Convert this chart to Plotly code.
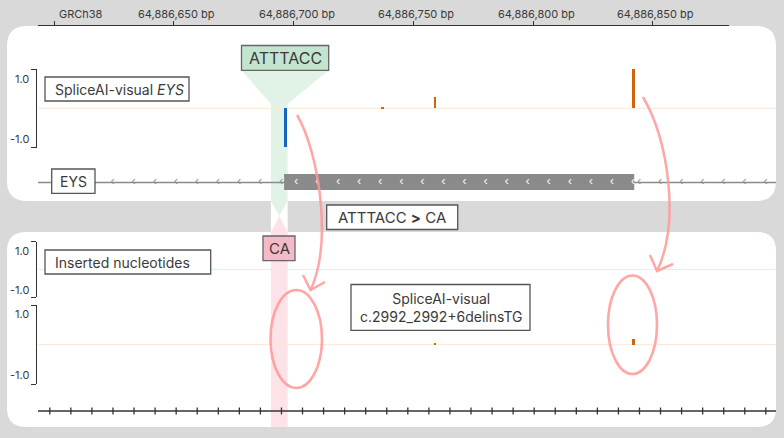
import numpy as np
import plotly.graph_objects as go

W, H = 784, 438

# ---------------- data ----------------
ruler_ticks = [64886600, 64886650, 64886700, 64886750, 64886800, 64886850]
ruler_labels = ["GRCh38", "64,886,650 bp", "64,886,700 bp", "64,886,750 bp",
                "64,886,800 bp", "64,886,850 bp"]

ref_pos = [64886696.5, 64886737, 64886759, 64886842]
ref_val = [-0.99, 0.02, 0.29, 0.99]
ref_col = ["#1565c0", "#d0650e", "#d0650e", "#d0650e"]

alt_pos = [64886759, 64886842]
alt_val = [0.02, 0.14]
alt_col = ["#d0650e", "#d0650e"]

gene_name = "EYS"
exon_start, exon_end = 64886696, 64886842.3
del_start, del_end = 64886691, 64886697
ref_seq, alt_seq = "ATTTACC", "CA"
variant_name = "c.2992_2992+6delinsTG"

# ---------------- pixel helpers (layout only) ----------------
PX0, SCALE = 54.3, 2.3935   # px of 64886600, px per bp


def bp(p):
    return 64886600 + (p - PX0) / SCALE


def bpx(b):
    return PX0 + (b - 64886600) * SCALE


def fx(x):
    return x / W


def fy(y):
    return 1 - y / H


def pth(pts, close=True):
    s = "M " + " L ".join(f"{fx(x):.5f},{fy(y):.5f}" for x, y in pts)
    return s + (" Z" if close else "")


def rrect(x0, y0, x1, y1, r):
    def P(x, y):
        return f"{fx(x):.5f},{fy(y):.5f}"
    return (f"M {P(x0+r,y0)} L {P(x1-r,y0)} Q {P(x1,y0)} {P(x1,y0+r)} "
            f"L {P(x1,y1-r)} Q {P(x1,y1)} {P(x1-r,y1)} L {P(x0+r,y1)} "
            f"Q {P(x0,y1)} {P(x0,y1-r)} L {P(x0,y0+r)} Q {P(x0,y0)} {P(x0+r,y0)} Z")


def cubic(p0, c1, c2, p1):
    def P(x, y):
        return f"{fx(x):.5f},{fy(y):.5f}"
    return f"M {P(*p0)} C {P(*c1)} {P(*c2)} {P(*p1)}"


FONT = "Inter"
TXT = "#3a3a3a"
EDGE = "#555555"
PINK = "rgba(255,150,150,0.85)"

shapes = []
# panels
shapes.append(dict(type="path", path=rrect(7, 26, 776, 201, 20), fillcolor="white",
                   line=dict(width=0), layer="below", xref="paper", yref="paper"))
shapes.append(dict(type="path", path=rrect(7, 232, 776, 427, 19), fillcolor="white",
                   line=dict(width=0), layer="below", xref="paper", yref="paper"))

vx0, vx1 = bpx(del_start - 0.5), bpx(del_end + 0.5)
vxm = (vx0 + vx1) / 2
# white column in gap
shapes.append(dict(type="rect", x0=fx(vx0), x1=fx(vx1), y0=fy(232), y1=fy(201),
                   fillcolor="white", line=dict(width=0), layer="below",
                   xref="paper", yref="paper"))
# green funnel + strip
shapes.append(dict(type="path",
                   path=pth([(241.5, 70.3), (328.7, 70.3), (vx1, 104), (vx1, 201),
                             (vxm, 216), (vx0, 201), (vx0, 104)]),
                   fillcolor="#e1f3e7", line=dict(width=0), layer="below",
                   xref="paper", yref="paper"))
# pink strip
shapes.append(dict(type="path",
                   path=pth([(vxm, 216), (vx1, 232), (vx1, 427), (vx0, 427), (vx0, 232)]),
                   fillcolor="#fde2e8", line=dict(width=0), layer="below",
                   xref="paper", yref="paper"))
# zero lines
for yz in (108.3, 269.5, 344.7):
    shapes.append(dict(type="line", x0=fx(38), x1=fx(776), y0=fy(yz), y1=fy(yz),
                       line=dict(color="#fde6d4", width=1), layer="below",
                       xref="paper", yref="paper"))
# gene line and exon
shapes.append(dict(type="line", x0=fx(38), x1=fx(776), y0=fy(182.5), y1=fy(182.5),
                   line=dict(color="#8a8a8a", width=1.5), layer="below",
                   xref="paper", yref="paper"))
shapes.append(dict(type="rect", x0=exon_start, x1=exon_end, y0=fy(190), y1=fy(174),
                   fillcolor="#8a8a8a", line=dict(width=0), layer="below",
                   xref="x", yref="paper"))
# bottom ruler line
shapes.append(dict(type="line", x0=fx(38), x1=fx(776), y0=fy(411), y1=fy(411),
                   line=dict(color="#333333", width=1.5), layer="below",
                   xref="paper", yref="paper"))
# sequence boxes
shapes.append(dict(type="rect", x0=fx(241.5), x1=fx(328.7), y0=fy(70.3), y1=fy(45.5),
                   fillcolor="#c3e5cf", line=dict(color="#666666", width=1.3),
                   layer="above", xref="paper", yref="paper"))
shapes.append(dict(type="rect", x0=fx(263), x1=fx(295), y0=fy(260.7), y1=fy(236),
                   fillcolor="#f5bac7", line=dict(color="#666666", width=1.3),
                   layer="above", xref="paper", yref="paper"))
# label boxes
for (x0, y0, x1, y1) in [(45, 77, 189, 101), (51.7, 169, 95, 193.3),
                         (326.7, 205, 457.7, 229.5), (45, 250, 210.7, 274),
                         (351, 284.5, 530, 330.3)]:
    shapes.append(dict(type="rect", x0=fx(x0), x1=fx(x1), y0=fy(y1), y1=fy(y0),
                       fillcolor="white", line=dict(color=EDGE, width=1.3),
                       layer="above", xref="paper", yref="paper"))
# pink curved arrows and ellipses
shapes.append(dict(type="path", path=cubic((297, 115), (318, 150), (333, 240), (311, 289)),
                   line=dict(color=PINK, width=2.5), layer="above",
                   xref="paper", yref="paper"))
shapes.append(dict(type="path", path=pth([(303, 275), (310.5, 290), (325, 282)], close=False),
                   line=dict(color=PINK, width=2.5), layer="above",
                   xref="paper", yref="paper"))
shapes.append(dict(type="path", path=cubic((643, 97), (668, 140), (680, 220), (658, 269)),
                   line=dict(color=PINK, width=2.5), layer="above",
                   xref="paper", yref="paper"))
shapes.append(dict(type="path", path=pth([(650, 255), (657, 271), (673, 264)], close=False),
                   line=dict(color=PINK, width=2.5), layer="above",
                   xref="paper", yref="paper"))
shapes.append(dict(type="circle", x0=fx(270.5), x1=fx(322), y0=fy(388), y1=fy(290),
                   line=dict(color=PINK, width=2.6), layer="above",
                   xref="paper", yref="paper"))
shapes.append(dict(type="circle", x0=fx(608), x1=fx(657), y0=fy(374), y1=fy(275.5),
                   line=dict(color=PINK, width=2.6), layer="above",
                   xref="paper", yref="paper"))

fig = go.Figure()

# SpliceAI reference track
fig.add_trace(go.Bar(x=ref_pos, y=ref_val, width=1.1, marker=dict(color=ref_col, line=dict(width=0)),
                     xaxis="x", yaxis="y", hoverinfo="skip"))
# inserted nucleotides track (empty)
fig.add_trace(go.Bar(x=[], y=[], xaxis="x", yaxis="y2", hoverinfo="skip"))
# SpliceAI alt track
fig.add_trace(go.Bar(x=alt_pos, y=alt_val, width=1.1, marker=dict(color=alt_col, line=dict(width=0)),
                     xaxis="x", yaxis="y3", hoverinfo="skip"))

# strand chevrons
step = 21.06 / SCALE
line_chev = [bp(49.5) + step * k for k in range(35)]
line_chev = [c for c in line_chev
             if not (exon_start - 1 <= c <= exon_end + 1) and not (bp(45) <= c <= bp(100))]
exon_chev = [bp(296) + step * k for k in range(17)]
fig.add_trace(go.Scatter(x=line_chev, y=[182.5] * len(line_chev), mode="text", text=["‹"] * len(line_chev),
                         textfont=dict(family=FONT, size=11, color="#8a8a8a"), textposition="middle center",
                         xaxis="x", yaxis="y4", hoverinfo="skip"))
fig.add_trace(go.Scatter(x=exon_chev, y=[182.5] * len(exon_chev), mode="text", text=["‹"] * len(exon_chev),
                         textfont=dict(family=FONT, size=11, color="white"), textposition="middle center",
                         xaxis="x", yaxis="y4", hoverinfo="skip"))
# bottom ruler ticks
rt = [bp(49.8) + step * k for k in range(35)]
fig.add_trace(go.Scatter(x=rt, y=[411] * len(rt), mode="markers",
                         marker=dict(symbol="line-ns", size=5, line=dict(color="#333333", width=1.3)),
                         xaxis="x", yaxis="y4", hoverinfo="skip"))
# dummy trace for top ruler axis
fig.add_trace(go.Scatter(x=[], y=[], xaxis="x2", yaxis="y4", hoverinfo="skip"))

annotations = []


def ann(text, x, y, size, xanchor="center", color=TXT):
    annotations.append(dict(text=text, x=fx(x), y=fy(y), xref="paper", yref="paper",
                            xanchor=xanchor, yanchor="middle", showarrow=False,
                            font=dict(family=FONT, size=size, color=color)))


for i, (tv, tl) in enumerate(zip(ruler_ticks, ruler_labels)):
    annotations.append(dict(text=tl, x=tv, y=fy(14), xref="x", yref="paper",
                            xanchor="left" if i == 0 else "center", xshift=3,
                            yanchor="middle", showarrow=False,
                            font=dict(family=FONT, size=11, color=TXT)))

ann("SpliceAI-visual <i>" + gene_name + "</i>", 53, 89.5, 14, "left")
ann(gene_name, 73.3, 181.5, 14)
ann(ref_seq, 285, 58, 16)
ann(alt_seq, 279, 248.5, 15)
ann(ref_seq + " <b>></b> " + alt_seq, 392, 217.5, 15)
ann("Inserted nucleotides", 53, 262, 14, "left")
ann("SpliceAI-visual<br>" + variant_name, 440.5, 307.5, 14)
for (lab, y) in [("1.0", 79), ("-1.0", 139), ("1.0", 251), ("-1.0", 289.5),
                 ("1.0", 314), ("-1.0", 375)]:
    ann(lab, 30.5, y, 11, "right")

yax = dict(range=[-1, 1], anchor="free", position=fx(36), showline=True, linecolor="#333333",
           linewidth=1.3, ticks="outside", tickvals=[-1, 1], ticklen=5, tickwidth=1.3,
           tickcolor="#333333", showticklabels=False, showgrid=False, zeroline=False,
           fixedrange=True)

fig.update_layout(
    width=W, height=H, margin=dict(l=0, r=0, t=0, b=0),
    paper_bgcolor="#d9d9d9", plot_bgcolor="rgba(0,0,0,0)",
    showlegend=False, bargap=0,
    xaxis=dict(domain=[0, 1], range=[bp(0), bp(W)], visible=False, fixedrange=True),
    xaxis2=dict(domain=[fx(38), fx(729)], range=[bp(38), bp(729)], anchor="free",
                position=fy(25), side="top", showline=True, linecolor="#333333", linewidth=1.3,
                ticks="outside", tickvals=ruler_ticks, ticklen=4, tickwidth=1.3,
                tickcolor="#333333", showticklabels=False, showgrid=False, zeroline=False,
                fixedrange=True),
    yaxis=dict(domain=[fy(147.5), fy(69)], **yax),
    yaxis2=dict(domain=[fy(297.3), fy(241.7)], **yax),
    yaxis3=dict(domain=[fy(384.3), fy(305)], **yax),
    yaxis4=dict(domain=[0, 1], range=[H, 0], visible=False, fixedrange=True),
    shapes=shapes, annotations=annotations,
)

fig.write_html("out.html")
